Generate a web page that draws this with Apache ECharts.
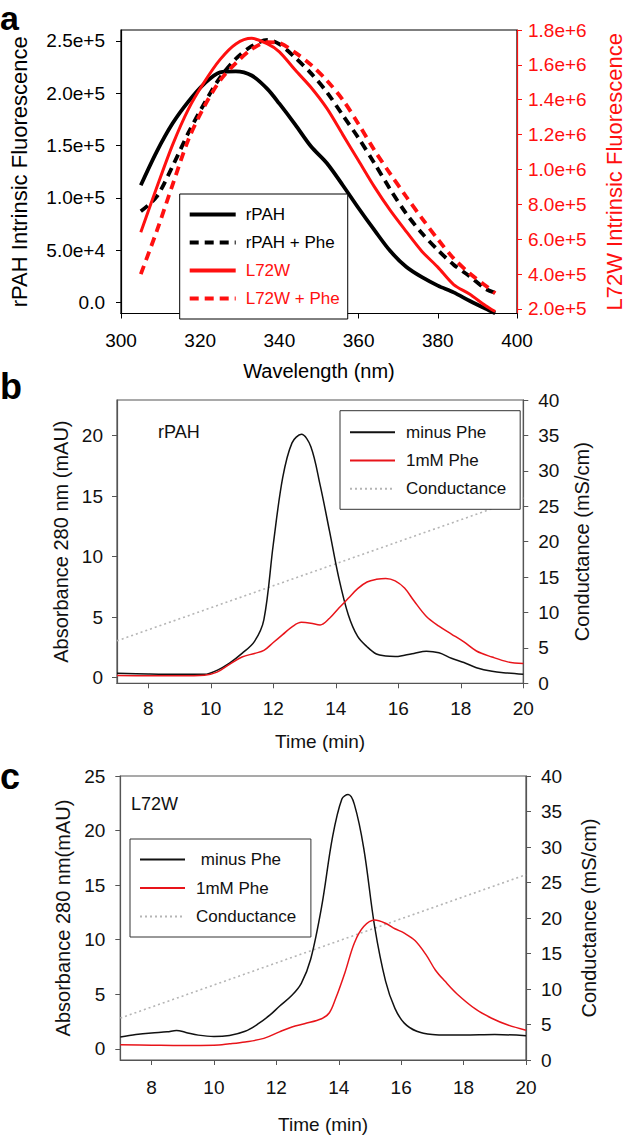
<!DOCTYPE html>
<html>
<head>
<meta charset="utf-8">
<script src="https://cdn.jsdelivr.net/npm/echarts@6/dist/echarts.min.js"></script>
<style>
html,body{margin:0;padding:0;background:#fff;}
#chart{width:633px;height:1138px;}
</style>
</head>
<body>
<div id="chart"></div>
<script>
// ---------- Panel a data ----------
const wavelength = [305,309,313,317,321,325,329,333,337,340,344,348,352,356,360,364,368,372,376,380,384,388,392,394.5];
const rpah      = [1.12e5,1.44e5,1.71e5,1.92e5,2.09e5,2.20e5,2.21e5,2.17e5,2.04e5,1.90e5,1.70e5,1.49e5,1.33e5,1.12e5,9.0e4,6.9e4,4.9e4,3.4e4,2.4e4,1.6e4,9.5e3,1.5e3,-6e3,-1.05e4];
const rpahPhe   = [8.7e4,1.01e5,1.30e5,1.62e5,1.90e5,2.15e5,2.33e5,2.45e5,2.51e5,2.47e5,2.34e5,2.19e5,2.01e5,1.79e5,1.57e5,1.33e5,1.08e5,8.5e4,6.6e4,5.0e4,3.6e4,2.5e4,1.3e4,9e3];
const l72w      = [6.4e5,8.95e5,1.14e6,1.345e6,1.50e6,1.63e6,1.72e6,1.752e6,1.72e6,1.675e6,1.57e6,1.47e6,1.35e6,1.20e6,1.05e6,9.0e5,7.65e5,6.45e5,5.3e5,4.4e5,3.4e5,2.86e5,2.2e5,1.85e5];
const l72wPhe   = [4.0e5,6.45e5,9.1e5,1.17e6,1.36e6,1.51e6,1.61e6,1.69e6,1.73e6,1.725e6,1.67e6,1.60e6,1.51e6,1.40e6,1.26e6,1.11e6,9.75e5,8.45e5,7.2e5,6.0e5,4.9e5,4.05e5,3.35e5,2.9e5];
const aLeftTicks  = [0,5e4,1e5,1.5e5,2e5,2.5e5];
const aRightTicks = [2e5,4e5,6e5,8e5,1e6,1.2e6,1.4e6,1.6e6,1.8e6];

// ---------- Panel b data (rPAH) ----------
const timeB      = [7,8,9,9.8,10.2,10.6,11,11.4,11.7,12,12.3,12.6,12.9,13.2,13.5,13.8,14.1,14.4,14.7,15,15.3,15.6,15.9,16.2,16.5,16.9,17.3,17.7,18.1,18.5,19,19.5,20];
const bMinusPhe  = [0.36,0.3,0.27,0.27,0.6,1.2,2.0,3.0,4.8,11.0,16.5,19.4,20.1,19.1,15.9,12.1,8.2,5.2,3.4,2.55,1.95,1.78,1.74,1.85,2.0,2.18,2.05,1.6,1.25,0.82,0.52,0.38,0.27];
const bPhe       = [0.17,0.15,0.15,0.2,0.45,1.1,1.7,2.0,2.25,2.9,3.55,4.2,4.57,4.5,4.35,4.9,5.75,6.55,7.35,7.9,8.12,8.2,8.0,7.4,6.35,5.05,4.25,3.6,2.95,2.2,1.7,1.3,1.16];
const bCondTime  = [7,20];
const bCond      = [6.0,26.2];

// ---------- Panel c data (L72W) ----------
const timeC      = [7,7.5,8,8.5,8.8,9.1,9.5,10,10.5,11,11.4,11.8,12.1,12.5,12.8,13.1,13.45,13.8,14.1,14.3,14.5,14.8,15.15,15.5,15.8,16.1,16.5,17,17.5,18,19,20];
const cMinusPhe  = [1.07,1.3,1.45,1.55,1.68,1.5,1.25,1.12,1.22,1.6,2.25,3.1,3.9,4.9,6.0,8.2,13.0,19.4,22.9,23.3,22.4,18.4,11.2,6.2,3.7,2.35,1.6,1.3,1.25,1.25,1.3,1.2];
const timeC2     = [7,8,9,10,10.5,11,11.6,12.1,12.5,12.9,13.45,13.7,13.9,14.2,14.5,14.8,15.15,15.5,15.8,16.1,16.45,16.8,17.1,17.4,17.8,18.4,18.9,19.4,20];
const cPhe       = [0.37,0.33,0.3,0.32,0.45,0.62,0.95,1.55,2.0,2.3,2.75,3.3,4.6,7.0,9.7,11.2,11.8,11.5,11.0,10.6,9.9,8.6,7.2,6.2,5.0,3.6,2.8,2.2,1.7];
const cCondTime  = [7,20];
const cCond      = [5.9,26.1];

const timeTicks = [8,10,12,14,16,18,20];
const bLeftTicks = [0,5,10,15,20];
const cLeftTicks = [0,5,10,15,20,25];

const FONT = '"Liberation Sans", Arial, Helvetica, sans-serif';
const RED = '#ff1010';
const pairs = (xs, ys) => xs.map((x, i) => [x, ys[i]]);
const expFmt = v => (v === 0 ? '0.0' : Number(v).toExponential(1));

const chart = echarts.init(document.getElementById('chart'), null, {renderer: 'svg'});

function yAxisBase(o) {
  return Object.assign({
    type: 'value', nameLocation: 'middle', nameRotate: 90,
    splitLine: {show: false},
    axisTick: {show: true, inside: false, length: 5, lineStyle: {color: '#555', width: 1}},
    axisLine: {show: true, lineStyle: {color: '#555', width: 1.2}},
    axisLabel: {fontSize: 19, color: '#111', fontFamily: FONT},
    nameTextStyle: {fontSize: 20, color: '#111', fontFamily: FONT}
  }, o);
}
function xAxisBase(o) {
  return Object.assign({
    type: 'value', nameLocation: 'middle',
    splitLine: {show: false},
    axisTick: {show: true, inside: false, length: 5, lineStyle: {color: '#555', width: 1}},
    axisLine: {show: true, onZero: false, lineStyle: {color: '#555', width: 1.2}},
    axisLabel: {fontSize: 19, color: '#111', fontFamily: FONT},
    nameTextStyle: {fontSize: 19, color: '#111', fontFamily: FONT}
  }, o);
}
const hideSym = {opacity: 0};

const option = {
  animation: false,
  backgroundColor: '#fff',
  textStyle: {fontFamily: FONT},
  grid: [
    {left: 118.4, top: 30, width: 406.6, height: 283.5, show: true, borderColor: '#000', borderWidth: 1.2},
    {left: 117, top: 400, width: 406.3, height: 283.3, show: true, borderColor: '#555', borderWidth: 1.2},
    {left: 120.3, top: 776, width: 405.7, height: 284, show: true, borderColor: '#555', borderWidth: 1.2}
  ],
  xAxis: [
    xAxisBase({gridIndex: 0, min: 300, max: 400, interval: 20, name: 'Wavelength (nm)', nameGap: 47,
      axisLine: {show: true, onZero: false, lineStyle: {color: '#000', width: 1.2}},
      axisTick: {show: true, length: 5, lineStyle: {color: '#000'}},
      axisLabel: {fontSize: 19, color: '#000', margin: 17, fontFamily: FONT},
      nameTextStyle: {fontSize: 20, color: '#000', fontFamily: FONT}}),
    xAxisBase({gridIndex: 1, min: 7, max: 20, name: 'Time (min)', nameGap: 49,
      axisLabel: {fontSize: 19, color: '#111', margin: 16, fontFamily: FONT, customValues: timeTicks},
      axisTick: {show: true, length: 5, lineStyle: {color: '#555'}, customValues: timeTicks}}),
    xAxisBase({gridIndex: 2, min: 7, max: 20, name: 'Time (min)', nameGap: 55,
      axisLabel: {fontSize: 19, color: '#111', margin: 18, fontFamily: FONT, customValues: timeTicks},
      axisTick: {show: true, length: 5, lineStyle: {color: '#555'}, customValues: timeTicks}})
  ],
  yAxis: [
    yAxisBase({gridIndex: 0, position: 'left', min: -1.07e4, max: 2.605e5,
      name: 'rPAH Intrinsic Fluorescence', nameGap: 91,
      nameTextStyle: {fontSize: 22, color: '#000', fontFamily: FONT},
      axisLine: {show: true, lineStyle: {color: '#000', width: 1.2}},
      axisTick: {show: true, length: 5, lineStyle: {color: '#000'}, customValues: aLeftTicks},
      axisLabel: {fontSize: 19, color: '#000', margin: 16, fontFamily: FONT, formatter: expFmt, customValues: aLeftTicks}}),
    yAxisBase({gridIndex: 0, position: 'right', min: 1.74e5, max: 1.8e6,
      name: 'L72W Intrinsic Fluorescence', nameGap: 86,
      nameTextStyle: {fontSize: 22, color: RED, fontFamily: FONT},
      axisLine: {show: true, lineStyle: {color: RED, width: 1.2}},
      axisTick: {show: true, length: 5, lineStyle: {color: RED}, customValues: aRightTicks},
      axisLabel: {fontSize: 19, color: RED, margin: 11, fontFamily: FONT, formatter: expFmt, customValues: aRightTicks}}),
    yAxisBase({gridIndex: 1, position: 'left', min: -0.47, max: 22.94,
      name: 'Absorbance 280 nm (mAU)', nameGap: 44,
      axisTick: {show: true, length: 5, lineStyle: {color: '#555'}, customValues: bLeftTicks},
      axisLabel: {fontSize: 19, color: '#111', margin: 14, fontFamily: FONT, customValues: bLeftTicks}}),
    yAxisBase({gridIndex: 1, position: 'right', min: 0, max: 40, interval: 5,
      name: 'Conductance (mS/cm)', nameGap: 49,
      axisLabel: {fontSize: 19, color: '#111', margin: 15, fontFamily: FONT}}),
    yAxisBase({gridIndex: 2, position: 'left', min: -1.03, max: 25,
      name: 'Absorbance 280 nm(mAU)', nameGap: 45,
      axisTick: {show: true, length: 5, lineStyle: {color: '#555'}, customValues: cLeftTicks},
      axisLabel: {fontSize: 19, color: '#111', margin: 15, fontFamily: FONT, customValues: cLeftTicks}}),
    yAxisBase({gridIndex: 2, position: 'right', min: 0, max: 40, interval: 5,
      name: 'Conductance (mS/cm)', nameGap: 53,
      axisLabel: {fontSize: 19, color: '#111', margin: 15, fontFamily: FONT}})
  ],
  legend: [
    {left: 179.7, top: 194, orient: 'vertical', padding: [12, 8, 12, 8],
      itemWidth: 46, itemHeight: 14, itemGap: 11, borderColor: '#000', borderWidth: 1,
      backgroundColor: '#fff', selectedMode: false, itemStyle: hideSym,
      textStyle: {fontSize: 17, fontFamily: FONT, color: '#000', padding: [0, 0, 0, 5]},
      data: [
        {name: 'rPAH', textStyle: {color: '#000'}, itemStyle: hideSym, lineStyle: {width: 4}},
        {name: 'rPAH + Phe', textStyle: {color: '#000'}, itemStyle: hideSym, lineStyle: {width: 4}},
        {name: 'L72W', textStyle: {color: RED}, itemStyle: hideSym, lineStyle: {width: 4}},
        {name: 'L72W + Phe', textStyle: {color: RED}, itemStyle: hideSym, lineStyle: {width: 4}}
      ]},
    {left: 340, top: 410.7, orient: 'vertical', padding: [13, 14, 12, 9],
      itemWidth: 45, itemHeight: 14, itemGap: 11.3, borderColor: '#333', borderWidth: 1,
      backgroundColor: '#fff', selectedMode: false, itemStyle: hideSym,
      textStyle: {fontSize: 17, fontFamily: FONT, color: '#111', padding: [0, 0, 0, 6]},
      data: [
        {name: 'minus Phe', itemStyle: hideSym, lineStyle: {width: 2}},
        {name: '1mM Phe', itemStyle: hideSym, lineStyle: {width: 2}},
        {name: 'Conductance', itemStyle: hideSym}
      ]},
    {left: 130, top: 839, orient: 'vertical', padding: [12, 10, 12, 9],
      itemWidth: 45, itemHeight: 14, itemGap: 11.5, borderColor: '#333', borderWidth: 1,
      backgroundColor: '#fff', selectedMode: false, itemStyle: hideSym,
      textStyle: {fontSize: 17, fontFamily: FONT, color: '#111', padding: [0, 0, 0, 6]},
      data: [
        {name: ' minus Phe', itemStyle: hideSym, lineStyle: {width: 2}},
        {name: '1mM Phe ', itemStyle: hideSym, lineStyle: {width: 2}},
        {name: 'Conductance ', itemStyle: hideSym}
      ]}
  ],
  graphic: [
    {type: 'text', style: {text: 'a', x: 0, y: 1, font: 'bold 34px ' + FONT, fill: '#000', verticalAlign: 'top', align: 'left'}},
    {type: 'text', style: {text: 'b', x: 0, y: 386, font: 'bold 36px ' + FONT, fill: '#000', verticalAlign: 'middle', align: 'left'}},
    {type: 'text', style: {text: 'c', x: 0, y: 776, font: 'bold 36px ' + FONT, fill: '#000', verticalAlign: 'middle', align: 'left'}},
    {type: 'text', style: {text: 'rPAH', x: 158, y: 432, font: '18px ' + FONT, fill: '#111', verticalAlign: 'middle', align: 'left'}},
    {type: 'text', style: {text: 'L72W', x: 131, y: 803.5, font: '18px ' + FONT, fill: '#111', verticalAlign: 'middle', align: 'left'}}
  ],
  series: [
    // panel a
    {name: 'rPAH', type: 'line', xAxisIndex: 0, yAxisIndex: 0, data: pairs(wavelength, rpah), symbol: 'none', smooth: 0.3,
      lineStyle: {color: '#000', width: 3.8}, itemStyle: {color: '#000'}},
    {name: 'rPAH + Phe', type: 'line', xAxisIndex: 0, yAxisIndex: 0, data: pairs(wavelength, rpahPhe), symbol: 'none', smooth: 0.3,
      lineStyle: {color: '#000', width: 3.8, type: [9, 6]}, itemStyle: {color: '#000'}},
    {name: 'L72W', type: 'line', xAxisIndex: 0, yAxisIndex: 1, data: pairs(wavelength, l72w), symbol: 'none', smooth: 0.3,
      lineStyle: {color: RED, width: 3}, itemStyle: {color: RED}},
    {name: 'L72W + Phe', type: 'line', xAxisIndex: 0, yAxisIndex: 1, data: pairs(wavelength, l72wPhe), symbol: 'none', smooth: 0.3,
      lineStyle: {color: RED, width: 3.8, type: [9, 6]}, itemStyle: {color: RED}},
    // panel b
    {name: 'Conductance', type: 'line', xAxisIndex: 1, yAxisIndex: 3, data: pairs(bCondTime, bCond), symbol: 'none', z: 1,
      lineStyle: {color: '#b5b5b5', width: 1.6, type: [2, 3]}, itemStyle: {color: '#b5b5b5'}},
    {name: 'minus Phe', type: 'line', xAxisIndex: 1, yAxisIndex: 2, data: pairs(timeB, bMinusPhe), symbol: 'none', smooth: 0.35,
      lineStyle: {color: '#111', width: 1.5}, itemStyle: {color: '#111'}},
    {name: '1mM Phe', type: 'line', xAxisIndex: 1, yAxisIndex: 2, data: pairs(timeB, bPhe), symbol: 'none', smooth: 0.35,
      lineStyle: {color: '#e8141a', width: 1.5}, itemStyle: {color: '#e8141a'}},
    // panel c
    {name: 'Conductance ', type: 'line', xAxisIndex: 2, yAxisIndex: 5, data: pairs(cCondTime, cCond), symbol: 'none', z: 1,
      lineStyle: {color: '#b5b5b5', width: 1.6, type: [2, 3]}, itemStyle: {color: '#b5b5b5'}},
    {name: ' minus Phe', type: 'line', xAxisIndex: 2, yAxisIndex: 4, data: pairs(timeC, cMinusPhe), symbol: 'none', smooth: 0.35,
      lineStyle: {color: '#111', width: 1.5}, itemStyle: {color: '#111'}},
    {name: '1mM Phe ', type: 'line', xAxisIndex: 2, yAxisIndex: 4, data: pairs(timeC2, cPhe), symbol: 'none', smooth: 0.35,
      lineStyle: {color: '#e8141a', width: 1.5}, itemStyle: {color: '#e8141a'}}
  ]
};
chart.setOption(option);
</script>
</body>
</html>
